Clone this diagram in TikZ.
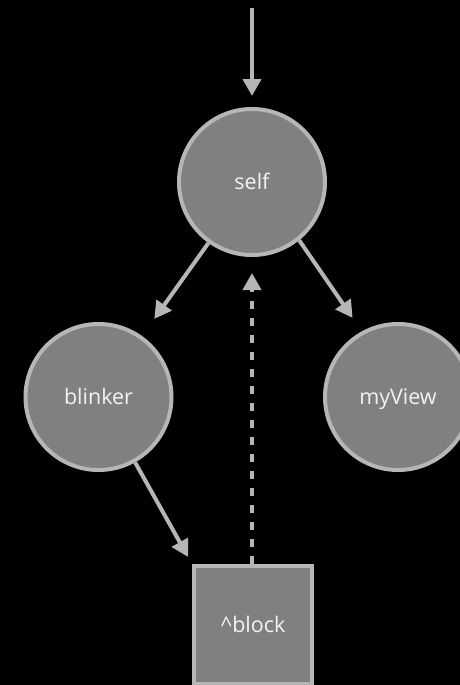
\documentclass[tikz,border=0pt]{standalone}
\usepackage{fontspec}
\setmainfont{Open Sans}
\usetikzlibrary{arrows.meta}
\definecolor{nodefill}{HTML}{808080}
\definecolor{edgegray}{HTML}{B6B6B9}
\definecolor{labelwhite}{HTML}{F2F2F2}
\tikzset{
  labelfont/.style={text=labelwhite, font=\fontsize{21.5}{26}\selectfont,
    text height=17pt, text depth=2pt},
  objnode/.style={circle, draw=edgegray, line width=4pt, fill=nodefill,
    minimum size=146pt, inner sep=0pt, labelfont},
  blocknode/.style={rectangle, draw=edgegray, line width=4pt, fill=nodefill,
    minimum size=118pt, inner sep=0pt, labelfont},
  ref/.style={draw=edgegray, line width=4pt,
    -{Triangle[length=17pt,width=18pt]}},
  weakref/.style={ref, dash pattern=on 8pt off 9pt}
}
\begin{document}
\begin{tikzpicture}[x=1pt, y=-1pt]
  % canvas
  \fill[black] (0,0) rectangle (460,685);
  \useasboundingbox (0,0) rectangle (460,685);

  % objects
  \node[objnode] (self) at (252,182) {self};
  \node[objnode] (blinker) at (98.5,397) {blinker};
  \node[objnode] (myView) at (398,397) {myView};
  \node[blocknode] (block) at (253,625) {\textasciicircum block};

  % incoming reference
  \coordinate (entry) at (252,8);
  \draw[ref, shorten >=11pt] (entry) -- (self);

  % strong references
  \draw[ref, shorten >=21pt] (self) -- (blinker);
  \draw[ref, shorten >=96pt] (self.-51) -- ([xshift=9pt]myView.center);
  \draw[ref, shorten >=8pt] (blinker) -- (block.north west);

  % weak reference back to self
  \draw[weakref, shorten >=16pt] (block.north -| self) -- (self);
\end{tikzpicture}
\end{document}
